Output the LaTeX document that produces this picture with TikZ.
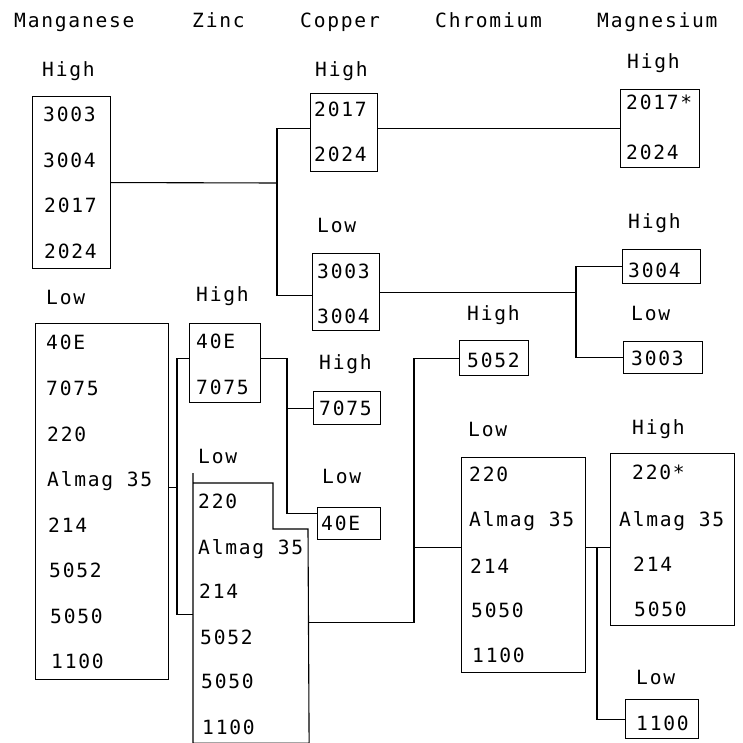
\documentclass[tikz,border=0pt]{standalone}
\usepackage{fontspec}
\newfontfamily\monofnt[LetterSpace=9]{DejaVu Sans Mono}
\begin{document}
\begin{tikzpicture}[x=1pt,y=-1pt,
  txt/.style={anchor=base west, inner sep=0pt, font=\monofnt\fontsize{19.6}{22}\selectfont},
  rbox/.style={draw, line width=1.1pt, inner sep=0pt, anchor=north west},
  wire/.style={line width=1.1pt}]
\useasboundingbox (0,0) rectangle (742,743);
% ---------- headers ----------
\node[txt] (hMn) at (14,28) {Manganese};
\node[txt] (hZn) at (192,28) {Zinc};
\node[txt] (hCu) at (300,28) {Copper};
\node[txt] (hCr) at (435,28) {Chromium};
\node[txt] (hMg) at (597,28) {Magnesium};
% ---------- boxes ----------
\node[rbox, minimum width=78pt, minimum height=172pt] (mnH) at (32,96) {};
\node[rbox, minimum width=67pt, minimum height=78pt] (cuH) at (310,93) {};
\node[rbox, minimum width=79pt, minimum height=78pt] (mgHa) at (620,89) {};
\node[rbox, minimum width=67pt, minimum height=77pt] (cuL) at (312,253) {};
\node[rbox, minimum width=78pt, minimum height=34pt] (mgHb) at (622,249) {};
\node[rbox, minimum width=79pt, minimum height=32pt] (mgLb) at (623,341) {};
\node[rbox, minimum width=69pt, minimum height=35pt] (crH) at (459,340) {};
\node[rbox, minimum width=133pt, minimum height=356pt] (mnL) at (35,323) {};
\node[rbox, minimum width=71pt, minimum height=79pt] (znH) at (189,323) {};
\node[rbox, minimum width=67pt, minimum height=33pt] (cuHc) at (313,391) {};
\node[rbox, minimum width=63pt, minimum height=32pt] (cuLc) at (317,507) {};
\node[rbox, draw=none, minimum width=115pt, minimum height=259pt] (znL) at (193,483) {};
\draw[wire] (193,473) -- (znL.north west) -- (273,483) -- (273,529) -- (308,529)
  -- (znL.south east) -- (znL.south west) -- cycle;
\node[rbox, minimum width=124pt, minimum height=215pt] (crL) at (461,457) {};
\node[rbox, minimum width=124pt, minimum height=172pt] (mgHc) at (610,453) {};
\node[rbox, minimum width=73pt, minimum height=39pt] (mgLc) at (625,699) {};
% ---------- labels ----------
\node[txt] (l1) at (42,77) {High};
\node[txt] (l2) at (315,77) {High};
\node[txt] (l3) at (627,69) {High};
\node[txt] (l4) at (317,233) {Low};
\node[txt] (l5) at (628,228) {High};
\node[txt] (l6) at (46,304) {Low};
\node[txt] (l7) at (196,301) {High};
\node[txt] (l8) at (631,320) {Low};
\node[txt] (l9) at (467,320) {High};
\node[txt] (l10) at (319,369) {High};
\node[txt] (l11) at (468,436) {Low};
\node[txt] (l12) at (632,434) {High};
\node[txt] (l13) at (198,463) {Low};
\node[txt] (l14) at (322,483) {Low};
\node[txt] (l15) at (636,684) {Low};
% ---------- box entries ----------
\node[txt] (a1) at (43,122) {3003};
\node[txt] (a2) at (43,168) {3004};
\node[txt] (a3) at (44,213) {2017};
\node[txt] (a4) at (44,258) {2024};
\node[txt] (b1) at (314,117) {2017};
\node[txt] (b2) at (314,162) {2024};
\node[txt] (c1) at (626,110) {2017*};
\node[txt] (c2) at (626,160) {2024};
\node[txt] (d1) at (317,278) {3003};
\node[txt] (d2) at (317,323) {3004};
\node[txt] (e1) at (628,277) {3004};
\node[txt] (f1) at (631,365) {3003};
\node[txt] (g1) at (467,367) {5052};
\node[txt] (h1) at (46,349) {40E};
\node[txt] (h2) at (46,395) {7075};
\node[txt] (h3) at (47,441) {220};
\node[txt] (h4) at (47,486) {Almag 35};
\node[txt] (h5) at (48,532) {214};
\node[txt] (h6) at (49,577) {5052};
\node[txt] (h7) at (50,623) {5050};
\node[txt] (h8) at (51,668) {1100};
\node[txt] (i1) at (196,348) {40E};
\node[txt] (i2) at (196,394) {7075};
\node[txt] (k1) at (319,415) {7075};
\node[txt] (m1) at (321,530) {40E};
\node[txt] (n1) at (198,508) {220};
\node[txt] (n2) at (198,554) {Almag 35};
\node[txt] (n3) at (199,598) {214};
\node[txt] (n4) at (200,644) {5052};
\node[txt] (n5) at (201,688) {5050};
\node[txt] (n6) at (202,734) {1100};
\node[txt] (p1) at (469,481) {220};
\node[txt] (p2) at (469,526) {Almag 35};
\node[txt] (p3) at (470,573) {214};
\node[txt] (p4) at (471,617) {5050};
\node[txt] (p5) at (472,662) {1100};
\node[txt] (q1) at (632,479) {220*};
\node[txt] (q2) at (619,526) {Almag 35};
\node[txt] (q3) at (633,571) {214};
\node[txt] (q4) at (634,616) {5050};
\node[txt] (r1) at (636,730) {1100};
% ---------- connectors ----------
\coordinate (j1) at (277,183);
\coordinate (s1) at ([yshift=4pt]cuH.west);
\coordinate (s2) at ([yshift=-3.5pt]cuL.west);
\draw[wire] (mnH.east) -- (j1);
\draw[wire] (s1) -| (j1) |- (s2);
\coordinate (s3) at ([yshift=4pt]cuH.east);
\draw[wire] (s3) -- (s3 -| mgHa.west);
\coordinate (j3) at (576,0);
\draw[wire] (cuL.east) -- (cuL.east -| j3);
\draw[wire] (mgHb.west) -| (j3 |- cuL.east) |- (mgLb.west);
\coordinate (s4) at ([yshift=14pt]mnL.east);
\coordinate (j4) at (177,0);
\coordinate (s5) at ([yshift=4.5pt]znH.west);
\coordinate (s6) at ([yshift=-1.5pt]znL.west);
\draw[wire] (s4) -- (s4 -| j4);
\draw[wire] (s5) -| (j4 |- s4) |- (s6);
\coordinate (s7) at ([yshift=4.5pt]znH.east);
\coordinate (j5) at (287,0);
\coordinate (s8) at ([yshift=10pt]cuLc.west);
\draw[wire] (s7) -| (j5 |- s8) -- (s8);
\draw[wire] (cuHc.west) -- (cuHc.west -| j5);
\coordinate (s9) at ([yshift=-9.5pt]znL.east);
\coordinate (j6) at (414,0);
\draw[wire] (s9) -| (j6 |- crH.west) -- (crH.west);
\coordinate (s10) at ([yshift=17.5pt]crL.west);
\draw[wire] (s10) -- (s10 -| j6);
\coordinate (s11) at ([yshift=17.5pt]crL.east);
\coordinate (j7) at (597,0);
\draw[wire] (s11) -- (s11 -| mgHc.west);
\draw[wire] (j7 |- s11) |- (mgLc.west);
\end{tikzpicture}
\end{document}
